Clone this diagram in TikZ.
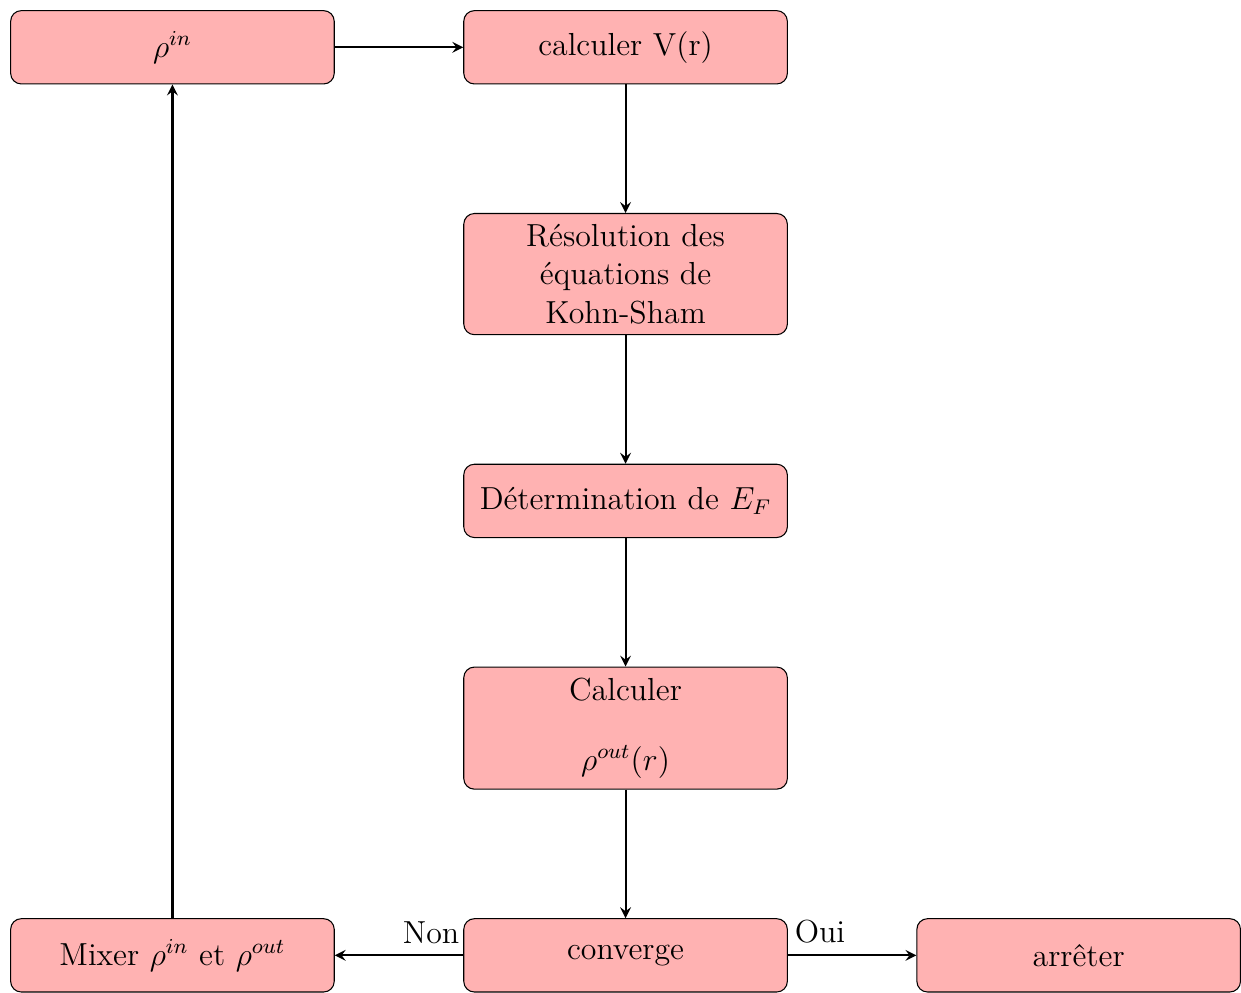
\documentclass[tikz,border=0pt,12pt]{standalone}
\usepackage{fontspec}
\usetikzlibrary{positioning}
\hyphenpenalty=10000
\exhyphenpenalty=10000
\begin{document}
\begin{tikzpicture}[node distance=1.7cm, >=stealth,
    etape/.style={rectangle, rounded corners, draw, fill=red!30, text width=4cm, minimum height=0.97cm, align=center},
    fleche/.style={->, thick}]
        \node[etape] (rhoin) {$\rho^{in}$};
        \node[etape, right=of rhoin] (calcV) {calculer V(r)};
        \node[etape, below=of calcV] (kohn) {Résolution des équations de Kohn-Sham};
        \node[etape, below=of kohn] (fermi) {Détermination de $E_F$};
        \node[etape, below=of fermi] (rhoout) {Calculer\\[1em] $\rho^{out}(r)$};
        \node[etape, below=of rhoout] (conv) {converge};
        \node[etape, right=of conv] (stop) {arrêter};
        \node[etape, left=of conv] (mix) {Mixer $\rho^{in}$ et $\rho^{out}$};
        % Boucle auto-coherente
        \draw[fleche] (rhoin) -- (calcV);
        \draw[fleche] (calcV) -- (kohn);
        \draw[fleche] (kohn) -- (fermi);
        \draw[fleche] (fermi) -- (rhoout);
        \draw[fleche] (rhoout) -- (conv);
        \draw[fleche] (conv) -- node[above, near start] {Oui} (stop);
        \draw[fleche] (conv) -- node[above, near start] {Non} (mix);
        \draw[fleche] (mix) -- (rhoin);
        \useasboundingbox ([shift={(-0.134cm,0.134cm)}]rhoin.north west) rectangle (stop.south east);
    \end{tikzpicture}
\end{document}
